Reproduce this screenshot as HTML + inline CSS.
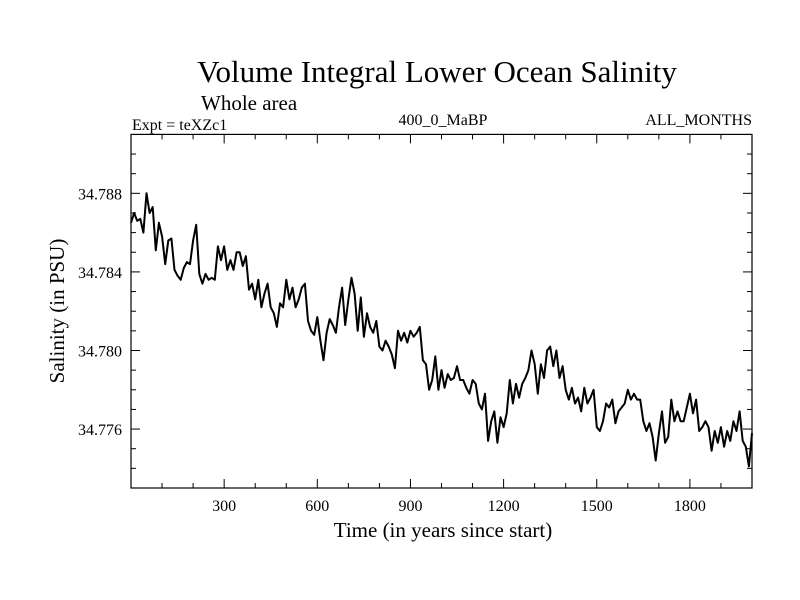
<!DOCTYPE html>
<html><head><meta charset="utf-8"><style>
body{margin:0;background:#fff;}
svg{display:block;font-family:"Liberation Serif",serif;}
</style></head><body>
<svg id="chart" width="800" height="600" viewBox="0 0 800 600">
<text x="437" y="82" font-size="31" text-anchor="middle">Volume Integral Lower Ocean Salinity</text>
<text x="201" y="110" font-size="21">Whole area</text>
<text x="132" y="130" font-size="16">Expt = teXZc1</text>
<text x="443" y="125" font-size="16" text-anchor="middle">400_0_MaBP</text>
<text x="752" y="125" font-size="16" text-anchor="end">ALL_MONTHS</text>
<text x="443" y="537" font-size="21" text-anchor="middle">Time (in years since start)</text>
<text transform="translate(64,311) rotate(-90)" font-size="21" text-anchor="middle">Salinity (in PSU)</text>
<g id="axes"></g>
<path id="series" fill="none" stroke="#000" stroke-width="2" stroke-linejoin="round"></path>
<rect x="131" y="134.4" width="621" height="353.6" fill="none" stroke="#000" stroke-width="1.2"></rect>
</svg>
<script>
const years = [];
for (let i = 0; i <= 200; i++) years.push(i * 10);
const salinity = [34.7865,34.7870,34.7866,34.7867,34.7860,34.7880,34.7870,34.7873,34.7851,34.7865,
34.7858,34.7844,34.7856,34.7857,34.7841,34.7838,34.7836,34.7842,34.7845,34.7844,
34.7856,34.7864,34.7839,34.7834,34.7839,34.7836,34.7837,34.7836,34.7853,34.7846,
34.7853,34.7841,34.7846,34.7841,34.7850,34.7850,34.7843,34.7848,34.7831,34.7834,
34.7826,34.7836,34.7822,34.7829,34.7834,34.7822,34.7819,34.7812,34.7824,34.7822,
34.7836,34.7826,34.7832,34.7822,34.7826,34.7832,34.7834,34.7815,34.7810,34.7808,
34.7817,34.7805,34.7795,34.7809,34.7816,34.7813,34.7809,34.7822,34.7832,34.7813,
34.7826,34.7837,34.7829,34.7810,34.7827,34.7807,34.7819,34.7812,34.7809,34.7815,
34.7802,34.7800,34.7805,34.7802,34.7798,34.7791,34.7810,34.7805,34.7809,34.7804,
34.7810,34.7807,34.7809,34.7812,34.7795,34.7793,34.7780,34.7785,34.7797,34.7780,
34.7790,34.7781,34.7788,34.7785,34.7786,34.7792,34.7785,34.7785,34.7781,34.7778,
34.7785,34.7783,34.7773,34.7770,34.7778,34.7754,34.7764,34.7769,34.7753,34.7766,
34.7761,34.7768,34.7785,34.7773,34.7783,34.7776,34.7783,34.7786,34.7790,34.7800,
34.7793,34.7778,34.7793,34.7786,34.7800,34.7802,34.7792,34.7800,34.7786,34.7792,
34.7780,34.7775,34.7781,34.7773,34.7776,34.7769,34.7781,34.7773,34.7776,34.7780,
34.7761,34.7759,34.7764,34.7773,34.7771,34.7775,34.7763,34.7769,34.7771,34.7773,
34.7780,34.7775,34.7778,34.7775,34.7775,34.7764,34.7759,34.7763,34.7756,34.7744,
34.7758,34.7769,34.7753,34.7756,34.7775,34.7764,34.7769,34.7764,34.7764,34.7771,
34.7778,34.7768,34.7775,34.7759,34.7761,34.7764,34.7761,34.7749,34.7759,34.7753,
34.7761,34.7751,34.7759,34.7754,34.7764,34.7759,34.7769,34.7754,34.7751,34.7741,34.7758];
const xTickLabels = ["300","600","900","1200","1500","1800"];
const yTickLabels = ["34.776","34.780","34.784","34.788"];

const X0=131,X1=752,Y0=488,Y1=134.4,XMIN=0,XMAX=2000,YMIN=34.773,YMAX=34.791;
const sx=v=>X0+(v-XMIN)/(XMAX-XMIN)*(X1-X0);
const sy=v=>Y0-(v-YMIN)/(YMAX-YMIN)*(Y0-Y1);
const NS="http://www.w3.org/2000/svg";
const axes=document.getElementById('axes');
function line(x1,y1,x2,y2,name){
  const l=document.createElementNS(NS,'line');
  l.setAttribute('x1',x1);l.setAttribute('y1',y1);l.setAttribute('x2',x2);l.setAttribute('y2',y2);
  l.setAttribute('stroke','#000');l.setAttribute('stroke-width','1');
  
  
  axes.appendChild(l);
}
function text(x,y,s,anchor,name){
  const t=document.createElementNS(NS,'text');
  t.setAttribute('x',x);t.setAttribute('y',y);t.setAttribute('font-size','16');t.setAttribute('text-anchor',anchor);
  t.textContent=s;
  
  
  axes.appendChild(t);
}
for(let v=100;v<XMAX;v+=100){
  const major=v%300===0, len=major?9:5, x=sx(v);
  line(x,Y0,x,Y0-len,'x-tick');
  line(x,Y1,x,Y1+len,'x-tick-top');
}
xTickLabels.forEach(s=>text(sx(+s),511,s,'middle','x-tick-label'));
for(let k=1;k<18;k++){
  const v=YMIN+k*0.001, major=(k%4===3), len=major?9:5, y=sy(v);
  line(X0,y,X0+len,y,'y-tick');
  line(X1,y,X1-len,y,'y-tick-right');
}
yTickLabels.forEach(s=>text(122,sy(+s)+6,s,'end','y-tick-label'));
let d='';
years.forEach((yr,i)=>{d+=(i?'L':'M')+sx(yr).toFixed(1)+' '+sy(salinity[i]).toFixed(1);});
document.getElementById('series').setAttribute('d',d);
</script>
</body></html>
